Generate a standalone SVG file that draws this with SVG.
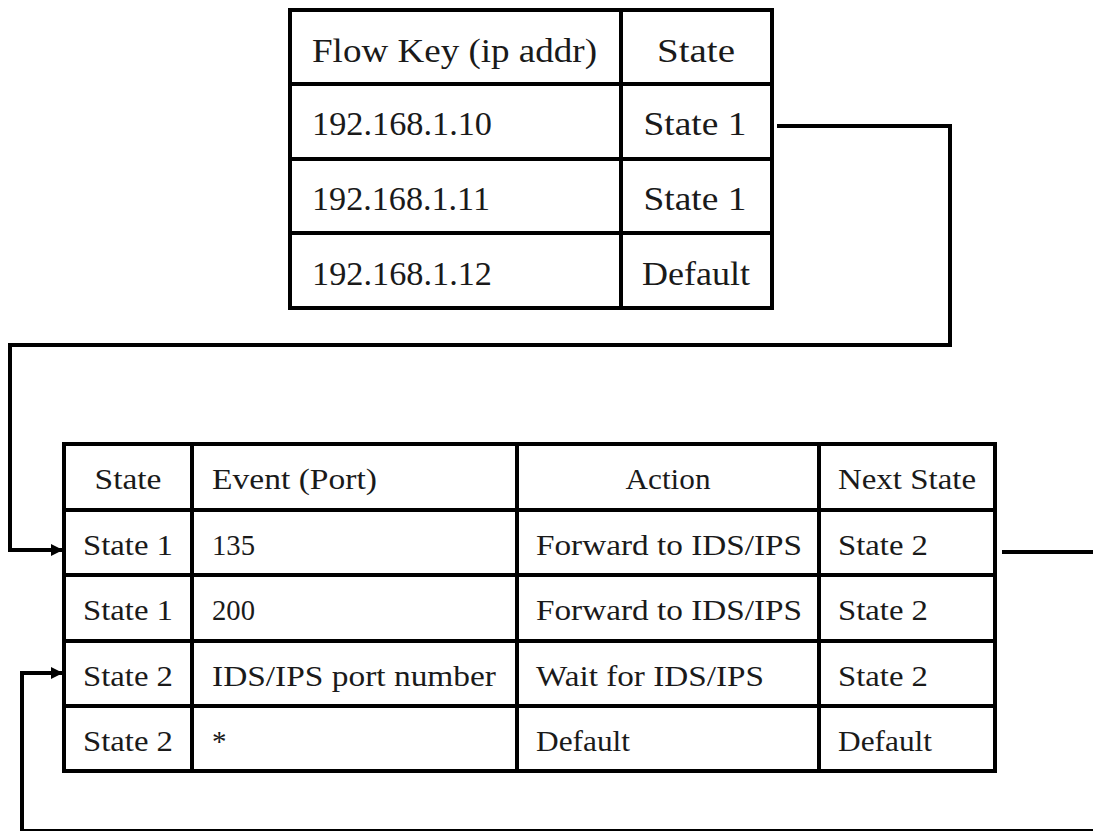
<svg xmlns="http://www.w3.org/2000/svg" width="1093" height="831" viewBox="0 0 1093 831">
<style>
.grid{fill:none;stroke:#000;stroke-width:4;stroke-linecap:square}
.conn{fill:none;stroke:#000;stroke-width:4;stroke-linejoin:miter}
.top{font-size:33px;fill:#1a1a1a}
.bot{font-size:29px;fill:#1a1a1a}
.mid{text-anchor:middle}
</style>
<defs>
<marker id="arrow" viewBox="0 0 12 12" refX="12" refY="6" markerWidth="12" markerHeight="12" markerUnits="userSpaceOnUse" orient="auto">
<path d="M0,0 L12,6 L0,12 z" fill="#000"/>
</marker>
</defs>
<rect x="0" y="0" width="1093" height="831" fill="#fff"/>

<g id="flow-table" font-family="Liberation Serif, Times New Roman, serif">
<rect class="grid" x="290" y="10" width="482" height="298"/>
<line class="grid" x1="621" y1="10" x2="621" y2="308"/>
<line class="grid" x1="290" y1="84" x2="772" y2="84"/>
<line class="grid" x1="290" y1="159" x2="772" y2="159"/>
<line class="grid" x1="290" y1="233" x2="772" y2="233"/>
<text class="top" x="312" y="62" textLength="285" lengthAdjust="spacingAndGlyphs">Flow Key (ip addr)</text>
<text class="top mid" x="696" y="62" textLength="78" lengthAdjust="spacingAndGlyphs">State</text>
<text class="top" x="312" y="135" textLength="180" lengthAdjust="spacingAndGlyphs">192.168.1.10</text>
<text class="top mid" x="695" y="135" textLength="103" lengthAdjust="spacingAndGlyphs">State 1</text>
<text class="top" x="312" y="210" textLength="178" lengthAdjust="spacingAndGlyphs">192.168.1.11</text>
<text class="top mid" x="695" y="210" textLength="103" lengthAdjust="spacingAndGlyphs">State 1</text>
<text class="top" x="312" y="285" textLength="180" lengthAdjust="spacingAndGlyphs">192.168.1.12</text>
<text class="top mid" x="696" y="285" textLength="108" lengthAdjust="spacingAndGlyphs">Default</text>
</g>

<g id="state-table" font-family="Liberation Serif, Times New Roman, serif">
<rect class="grid" x="64" y="444" width="931" height="327"/>
<line class="grid" x1="192" y1="444" x2="192" y2="771"/>
<line class="grid" x1="517" y1="444" x2="517" y2="771"/>
<line class="grid" x1="819" y1="444" x2="819" y2="771"/>
<line class="grid" x1="64" y1="510" x2="995" y2="510"/>
<line class="grid" x1="64" y1="575" x2="995" y2="575"/>
<line class="grid" x1="64" y1="641" x2="995" y2="641"/>
<line class="grid" x1="64" y1="706" x2="995" y2="706"/>

<text class="bot mid" x="128" y="489" textLength="67" lengthAdjust="spacingAndGlyphs">State</text>
<text class="bot" x="212" y="489" textLength="165" lengthAdjust="spacingAndGlyphs">Event (Port)</text>
<text class="bot mid" x="668" y="489" textLength="85" lengthAdjust="spacingAndGlyphs">Action</text>
<text class="bot mid" x="907" y="489" textLength="138" lengthAdjust="spacingAndGlyphs">Next State</text>

<text class="bot mid" x="128" y="555" textLength="90" lengthAdjust="spacingAndGlyphs">State 1</text>
<text class="bot" x="212" y="555" textLength="43" lengthAdjust="spacingAndGlyphs">135</text>
<text class="bot" x="536" y="555" textLength="266" lengthAdjust="spacingAndGlyphs">Forward to IDS/IPS</text>
<text class="bot" x="838" y="555" textLength="90" lengthAdjust="spacingAndGlyphs">State 2</text>

<text class="bot mid" x="128" y="620" textLength="90" lengthAdjust="spacingAndGlyphs">State 1</text>
<text class="bot" x="212" y="620" textLength="43" lengthAdjust="spacingAndGlyphs">200</text>
<text class="bot" x="536" y="620" textLength="266" lengthAdjust="spacingAndGlyphs">Forward to IDS/IPS</text>
<text class="bot" x="838" y="620" textLength="90" lengthAdjust="spacingAndGlyphs">State 2</text>

<text class="bot mid" x="128" y="686" textLength="90" lengthAdjust="spacingAndGlyphs">State 2</text>
<text class="bot" x="212" y="686" textLength="284" lengthAdjust="spacingAndGlyphs">IDS/IPS port number</text>
<text class="bot" x="536" y="686" textLength="228" lengthAdjust="spacingAndGlyphs">Wait for IDS/IPS</text>
<text class="bot" x="838" y="686" textLength="90" lengthAdjust="spacingAndGlyphs">State 2</text>

<text class="bot mid" x="128" y="751" textLength="90" lengthAdjust="spacingAndGlyphs">State 2</text>
<text class="bot" x="212" y="751">*</text>
<text class="bot" x="536" y="751" textLength="94" lengthAdjust="spacingAndGlyphs">Default</text>
<text class="bot" x="838" y="751" textLength="94" lengthAdjust="spacingAndGlyphs">Default</text>
</g>

<g id="connectors">
<path class="conn" d="M777,126 H950 V345 H10 V550 H63" marker-end="url(#arrow)"/>
<path class="conn" d="M1002,552 H1110 V831 H22 V673 H63" marker-end="url(#arrow)"/>
</g>
</svg>
